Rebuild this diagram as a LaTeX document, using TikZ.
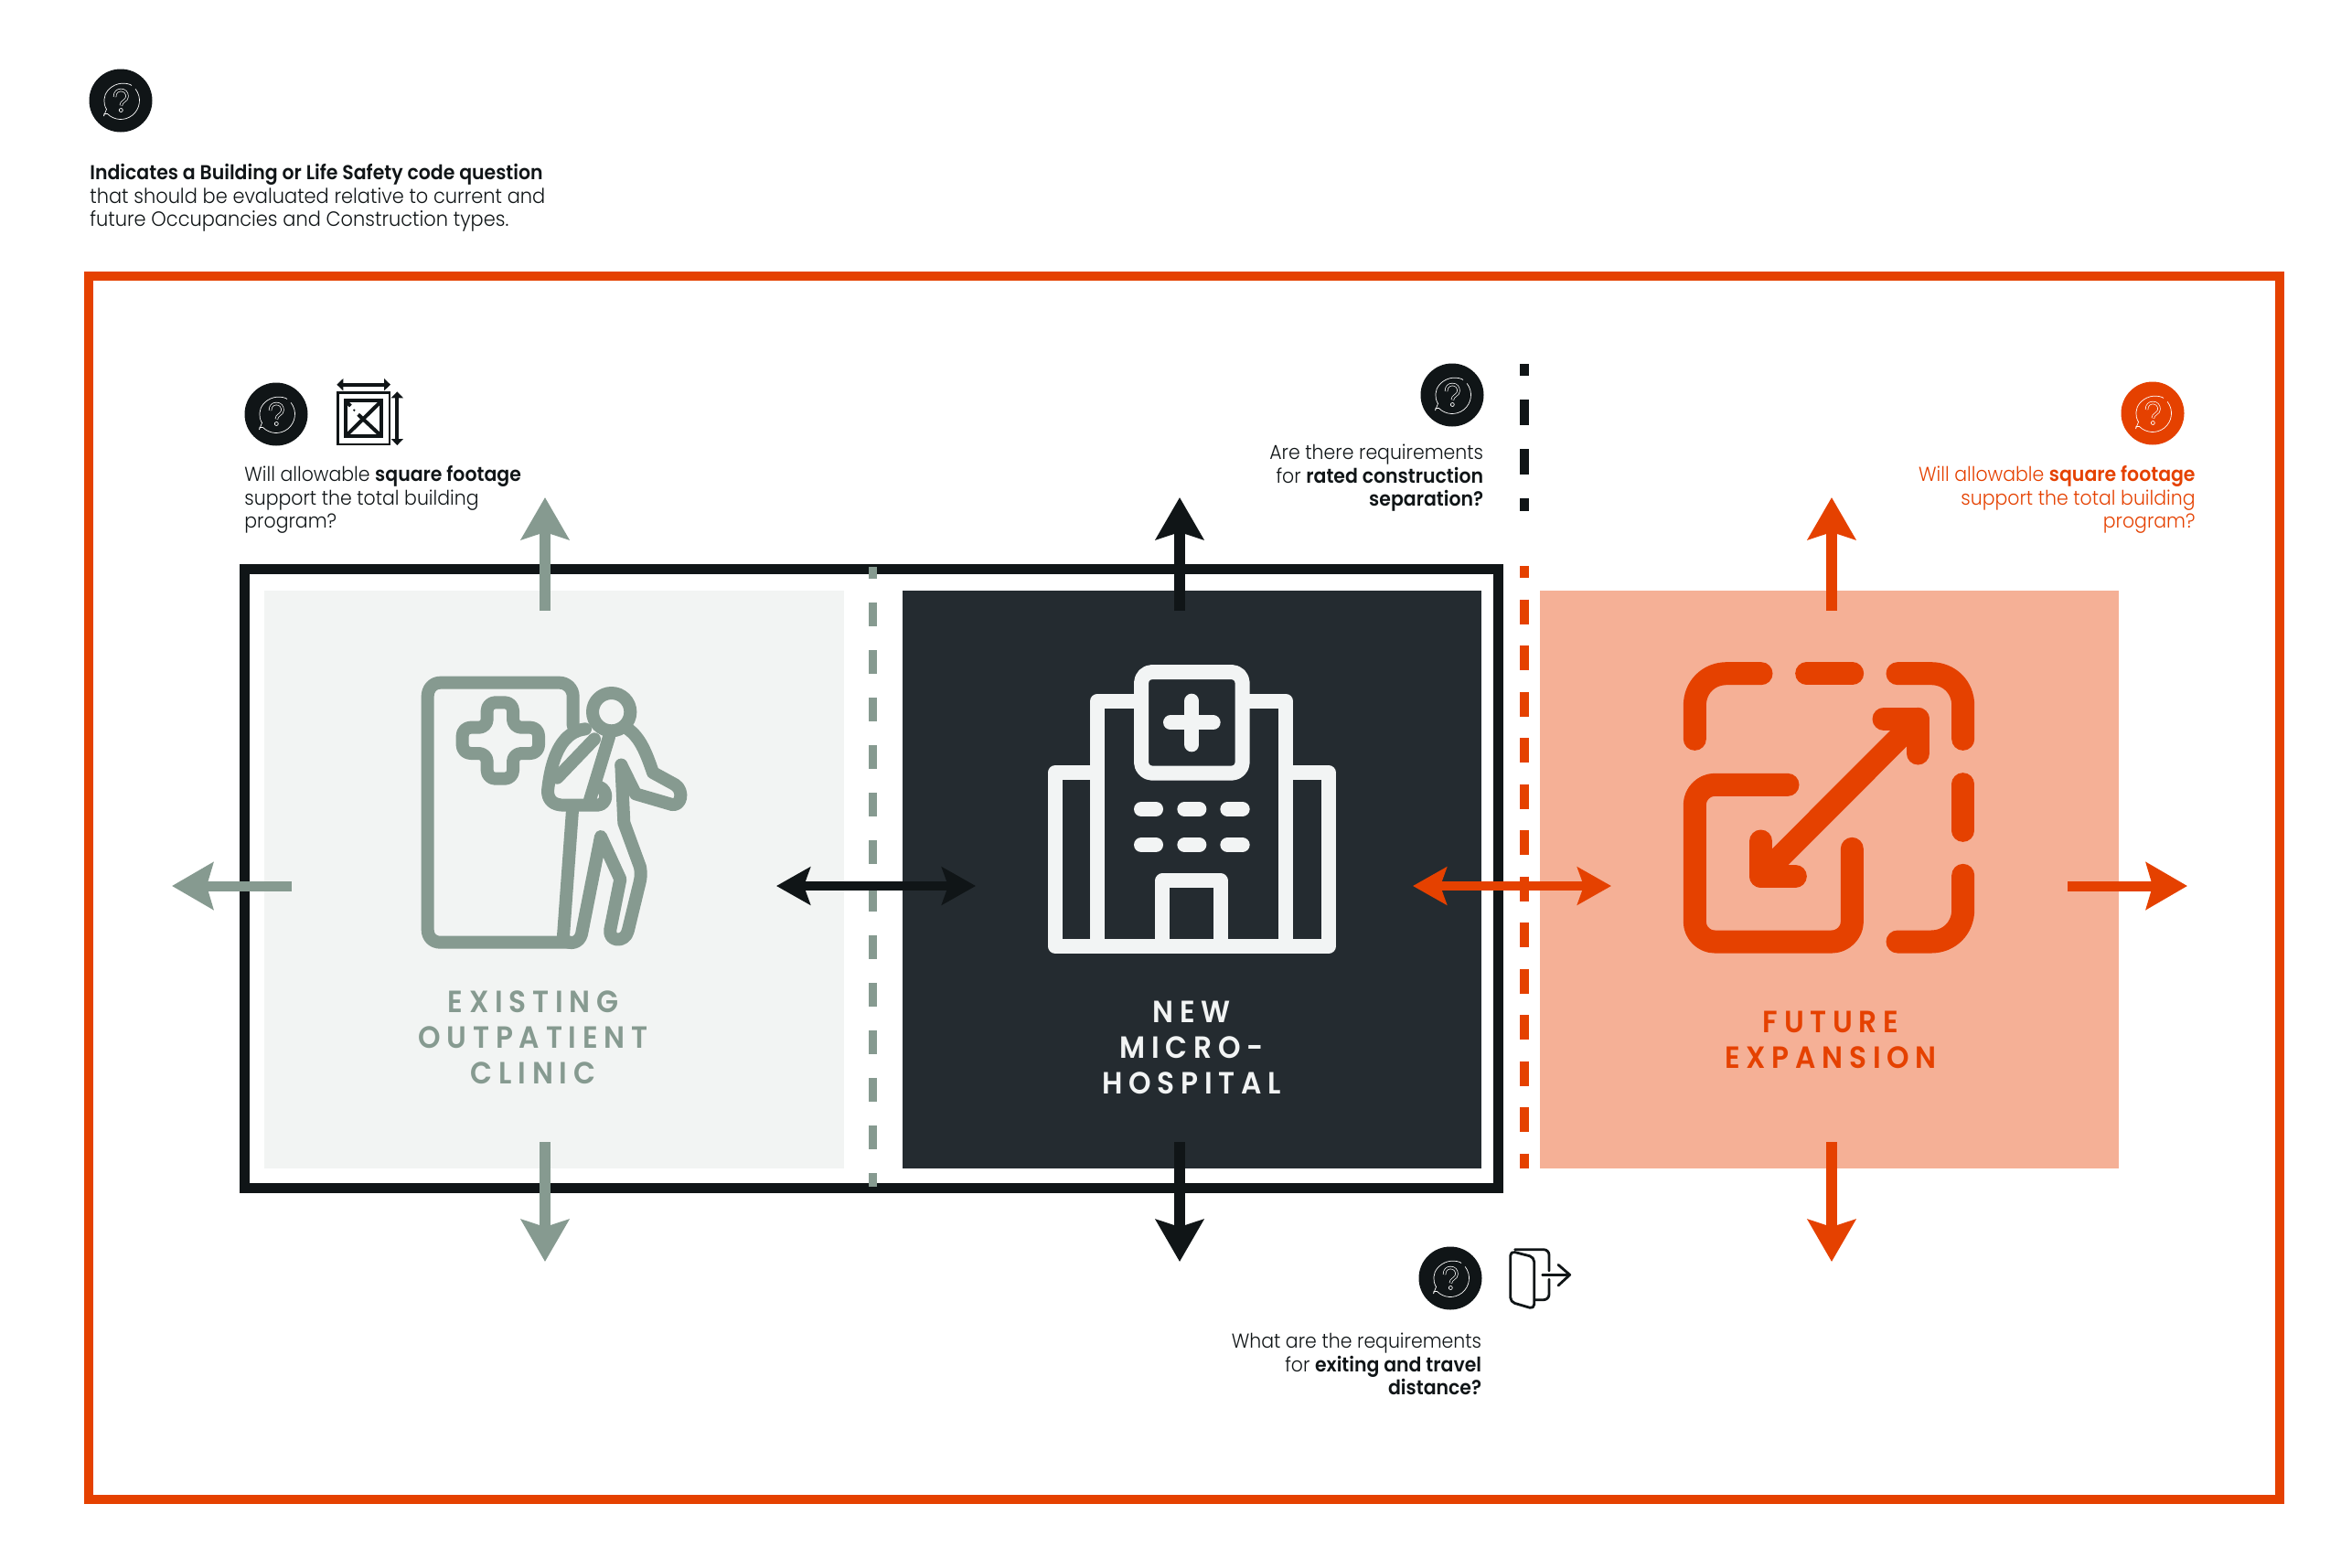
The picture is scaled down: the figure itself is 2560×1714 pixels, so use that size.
\documentclass[tikz,border=0pt]{standalone}
\usepackage{fontspec}
\setmainfont{Poppins Light}[FakeStretch=0.93,BoldFont={Poppins SemiBold},BoldFeatures={FakeStretch=0.93}]
\newfontfamily\labfont[LetterSpace=20,FakeStretch=0.93]{Poppins SemiBold}
\usetikzlibrary{arrows.meta}
\definecolor{framered}{HTML}{E54100}
\definecolor{inkk}{HTML}{101517}
\definecolor{darkpanel}{HTML}{242B30}
\definecolor{lightpanel}{HTML}{F2F4F3}
\definecolor{sage}{HTML}{869A90}
\definecolor{peach}{HTML}{F5B096}
\definecolor{paleicon}{HTML}{F2F4F4}
\tikzset{
  zm/.style 2 args={shift={(#1,#2)},x=0.166667pt,y=-0.166667pt},
  txt/.style={inner sep=0pt,font=\fontsize{11pt}{12.75pt}\selectfont,text=inkk},
  capl/.style={inner sep=0pt,font=\labfont\fontsize{16.8pt}{19.5pt}\selectfont,align=center},
  bigarrow/.style={line width=6pt,-{Stealth[length=23pt,width=26pt,inset=4pt]}},
  twoarrow/.style={line width=5pt,{Stealth[length=18.5pt,width=20.5pt,inset=3.5pt]}-{Stealth[length=18.5pt,width=20.5pt,inset=3.5pt]}},
  sidearrow/.style={line width=5.5pt,-{Stealth[length=22.5pt,width=25.5pt,inset=3.5pt]}},
  sepline/.style={line width=4.6pt},
  pics/qicon/.style={code={
    \node[circle,fill=#1,minimum size=34.5pt,inner sep=0pt] (-c) at (0,0) {};
    \begin{scope}[x=0.5pt,y=0.5pt,white,line width=0.35pt]
      \draw (38:20.5) arc (38:-135:20.5) -- ++(-3.5,0) -- (-18.5,-17) -- (-15.5,-9.5) arc (212:140:17.5) arc (140:70:22) -- (12,16.5);
      \draw[line width=0.35pt,double=#1,double distance=1pt]
        (-6.5,4) .. controls (-6.5,9) and (-3.5,11.5) .. (0.3,11.5) .. controls (4.5,11.5) and (7,8.5) .. (7,4.5) .. controls (7,-0.5) and (0.3,-0.5) .. (0.3,-5.5);
      \draw (0.3,-10.5) circle (2);
    \end{scope}
  }}
}
\begin{document}
\begin{tikzpicture}[x=0.5pt,y=-0.5pt,line join=miter]
\useasboundingbox (0,0) rectangle (2560,1714);
\fill[white] (0,0) rectangle (2560,1714);

% frame
\draw[framered,line width=5.25pt] (97,302) rectangle (2493,1640);

% panels
\fill[lightpanel] (289,646) rectangle (923,1278);
\fill[darkpanel] (986.5,646) rectangle (1620,1278);
\fill[peach] (1684,646) rectangle (2317,1278);

% main box
\draw[inkk,line width=5.5pt] (267,622.5) rectangle (1638.5,1299.5);

% separators
\coordinate (sa) at (954.5,620); \coordinate (sb) at (954.5,1298);
\draw[sepline,sage,dash pattern=on 13pt off 13pt,dash phase=6.5pt] (sa) -- (sb);
\coordinate (ka) at (1667,398); \coordinate (kb) at (1667,559);
\draw[sepline,inkk,dash pattern=on 14pt off 13pt,dash phase=7.5pt] (ka) -- (kb);
\coordinate (ra) at (1667,619); \coordinate (rb) at (1667,1278);
\draw[sepline,framered,dash pattern=on 13.5pt off 11.75pt,dash phase=7pt] (ra) -- (rb);

% arrows
\coordinate (a1s) at (596,668); \coordinate (a1e) at (596,544);
\coordinate (a2s) at (596,1249); \coordinate (a2e) at (596,1380);
\coordinate (a3s) at (319,969); \coordinate (a3e) at (188,969);
\coordinate (a4s) at (1290,668); \coordinate (a4e) at (1290,544);
\coordinate (a5s) at (1290,1249); \coordinate (a5e) at (1290,1380);
\coordinate (a6s) at (849,969); \coordinate (a6e) at (1067,969);
\coordinate (a7s) at (1545,969); \coordinate (a7e) at (1762,969);
\coordinate (a8s) at (2003,668); \coordinate (a8e) at (2003,544);
\coordinate (a9s) at (2003,1249); \coordinate (a9e) at (2003,1380);
\coordinate (a10s) at (2261,969); \coordinate (a10e) at (2392,969);
\draw[bigarrow,sage] (a1s) -- (a1e);
\draw[bigarrow,sage] (a2s) -- (a2e);
\draw[sidearrow,sage] (a3s) -- (a3e);
\draw[bigarrow,inkk] (a4s) -- (a4e);
\draw[bigarrow,inkk] (a5s) -- (a5e);
\draw[twoarrow,inkk] (a6s) -- (a6e);
\draw[twoarrow,framered] (a7s) -- (a7e);
\draw[bigarrow,framered] (a8s) -- (a8e);
\draw[bigarrow,framered] (a9s) -- (a9e);
\draw[sidearrow,framered] (a10s) -- (a10e);

% clinic icon
\begin{scope}[zm={420}{700},sage,line width=7pt,line join=round,line cap=round]
  \draw (620,280) -- (620,185) .. controls (620,160) and (600,140) .. (575,140) -- (185,140) .. controls (160,140) and (143,160) .. (143,185) -- (143,950) .. controls (143,975) and (160,992) .. (185,992) -- (610,992);
  \draw[rounded corners=4.5pt] (338,205) -- (423,205) -- (423,287) -- (507,287) -- (507,372) -- (423,372) -- (423,455) -- (338,455) -- (338,372) -- (257,372) -- (257,287) -- (338,287) -- cycle;
  \draw (746,236) circle[radius=62];
  % arm in sling
  \draw (660,292) .. controls (590,300) and (550,370) .. (537,495) .. controls (537,525) and (555,542) .. (590,542) -- (700,542) .. controls (735,540) and (735,490) .. (705,482);
  \draw (690,325) -- (568,452);
  \draw (738,318) -- (675,525);
  % right arm
  \draw (800,292) .. controls (840,320) and (860,370) .. (882,435) -- (955,475) .. controls (985,495) and (975,545) .. (945,540) -- (825,505) -- (778,410);
  % torso and legs
  \draw (778,410) -- (787,600) -- (840,745) .. controls (845,775) and (840,790) .. (835,810) -- (800,955) .. controls (790,995) and (735,990) .. (742,950) -- (775,785) -- (711,645) -- (648,965) .. controls (640,995) and (610,1000) .. (592,985);
  \draw (618,558) -- (587,985);
\end{scope}

% hospital icon
\begin{scope}[zm={1120}{700},paleicon,line width=8pt,line join=round]
  \draw (241,1004) -- (241,200) -- (858,200) -- (858,1004);
  \draw (241,436) -- (101,436) -- (101,1004) -- (999,1004) -- (999,436) -- (858,436);
  \draw[fill=darkpanel,rounded corners=6pt] (384,105) rectangle (716,437);
  \draw (454,1004) -- (454,790) -- (644,790) -- (644,1004);
  \begin{scope}[line cap=round]
    \draw (550,200) -- (550,343);
    \draw (480,271) -- (620,271);
    \draw (384,555) -- (432,555);
    \draw (526,555) -- (574,555);
    \draw (667,555) -- (716,555);
    \draw (384,672) -- (432,672);
    \draw (526,672) -- (574,672);
    \draw (667,672) -- (716,672);
  \end{scope}
\end{scope}

% expansion icon
\begin{scope}[zm={1820}{700},framered,line width=12.5pt,line cap=round,line join=round]
  \draw (100,325) -- (100,215) .. controls (100,155) and (145,110) .. (205,110) -- (318,110);
  \draw (467,110) -- (617,110);
  \draw (765,110) -- (875,110) .. controls (935,110) and (980,155) .. (980,215) -- (980,325);
  \draw (980,473) -- (980,625);
  \draw (980,772) -- (980,885) .. controls (980,945) and (935,990) .. (875,990) -- (765,990);
  \draw (405,475) -- (165,475) .. controls (130,475) and (100,505) .. (100,540) -- (100,925) .. controls (100,960) and (130,990) .. (165,990) -- (550,990) .. controls (585,990) and (616,960) .. (616,925) -- (616,685);
  \draw (317,775) -- (832,259);
  \draw (720,259) -- (832,259) -- (832,372);
  \draw (317,660) -- (317,775) -- (430,775);
\end{scope}

% captions
\node[capl,text=sage,anchor=north] (lab1) at (583,1083) {EXISTING\\OUTPATIENT\\CLINIC};
\node[capl,text=paleicon,anchor=north] (lab2) at (1303,1095) {NEW\\MICRO-\\HOSPITAL};
\node[capl,text=framered,anchor=north] (lab3) at (2002,1106) {FUTURE\\EXPANSION};

% question icons
\pic (q0) at (132,110) {qicon=inkk};
\pic (q1) at (302,453) {qicon=inkk};
\pic (q2) at (1588,432) {qicon=inkk};
\pic (q3) at (2354,452) {qicon=framered};
\pic (q4) at (1586,1398) {qicon=inkk};

% square footage icon
\begin{scope}[zm={240}{390},inkk,line width=1.4pt]
  \draw (388,118) rectangle (558,288);
  \draw[line width=2pt] (413,145) rectangle (532,262);
  \draw[line width=2pt] (413,262) -- (532,145);
  \draw[line width=2pt] (455,190) -- (532,262);
  \draw[line width=2pt] (416,148) -- (430,162);
  \fill (442,176) circle[radius=4];
  \draw[line width=2pt,{Stealth[length=3.5pt,width=6.5pt,inset=0pt]}-{Stealth[length=3.5pt,width=6.5pt,inset=0pt]}] (385,92) -- (561,92);
  \draw[line width=2pt,{Stealth[length=3.5pt,width=6.5pt,inset=0pt]}-{Stealth[length=3.5pt,width=6.5pt,inset=0pt]}] (583,115) -- (583,291);
\end{scope}

% exit icon
\begin{scope}[zm={1330}{1340},inkk,line width=1.4pt,line join=round,line cap=round]
  \draw[rounded corners=3pt] (980,80) -- (1092,80) -- (1092,150);
  \draw[rounded corners=3pt] (1092,178) -- (1092,245) -- (1047,245);
  \draw[rounded corners=2.5pt] (965,85) -- (1043,105) -- (1043,275) -- (965,252) -- cycle;
  \draw (1070,163) -- (1158,163);
  \draw (1122,130) -- (1160,163) -- (1122,198);
\end{scope}

% texts
\node[txt,anchor=north west,align=left] (t0) at (98,179) {\textbf{Indicates a Building or Life Safety code question}\\\fontsize{11.25pt}{12.75pt}\selectfont that should be evaluated relative to current and\\\fontsize{11.25pt}{12.75pt}\selectfont future Occupancies and Construction types.};
\node[txt,anchor=north west,align=left] (t1) at (267,509) {Will allowable \textbf{square footage}\\support the total building\\program?};
\node[txt,anchor=north east,align=right] (t2) at (1622.5,486) {Are there requirements\\for \textbf{rated construction}\\\textbf{separation?}};
\node[txt,anchor=north east,align=right,text=framered] (t3) at (2401,509) {Will allowable \textbf{square footage}\\support the total building\\program?};
\node[txt,anchor=north east,align=right] (t4) at (1620.5,1458) {What are the requirements\\for \textbf{exiting and travel}\\\textbf{distance?}};
\end{tikzpicture}
\end{document}
